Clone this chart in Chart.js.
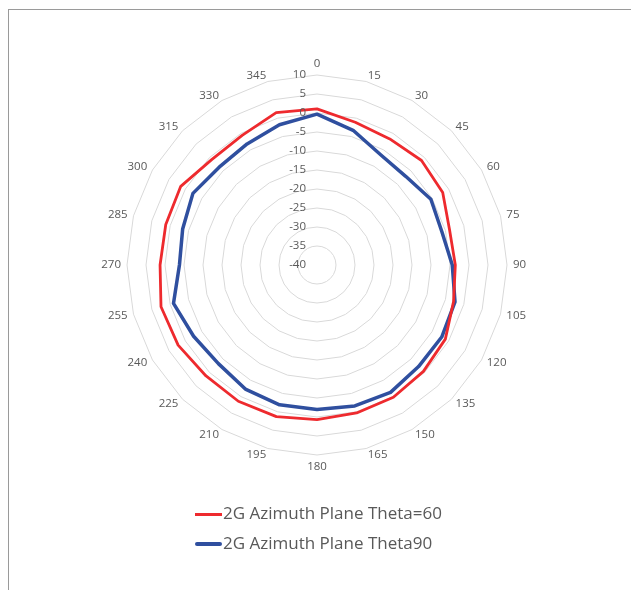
<!DOCTYPE html>
<html>
<head>
<meta charset="utf-8">
<script src="https://cdn.jsdelivr.net/npm/chart.js@4"></script>
<style>
  html, body { margin: 0; padding: 0; background: #fff; }
  #wrap { position: relative; width: 631px; height: 590px; overflow: hidden; }
  #frame { position: absolute; left: 8px; top: 9px; width: 700px; height: 700px;
           border-top: 1px solid #9a9a9a; border-left: 1px solid #9a9a9a; }
  #c { position: absolute; left: 0; top: 0; }
  .leg { position: absolute; left: 195px; font: 17px "Open Sans", sans-serif; color: #595959;
         white-space: nowrap; line-height: 20px; }
  .leg i { display: inline-block; width: 27px; vertical-align: middle; margin-right: 1px; }
</style>
</head>
<body>
<div id="wrap">
  <div id="frame"></div>
  <canvas id="c" width="631" height="590"></canvas>
  <div class="leg" style="top:503px"><i style="height:3px;background:#ee2a2e"></i>2G Azimuth Plane Theta=60</div>
  <div class="leg" style="top:533px"><i style="height:4px;border-radius:2px;background:#2f4f9f"></i>2G Azimuth Plane Theta90</div>
</div>
<script>
// === DATA ===
const angles = ['0', '15', '30', '45', '60', '75', '90', '105', '120', '135', '150', '165',
                '180', '195', '210', '225', '240', '255', '270', '285', '300', '315', '330', '345'];
const theta60 = [1.1, -1.1, -1.7, -1.1, -1.8, -3.9, -3.6, -2.8, -1.0, -0.4, 0.2, 0.3,
                 0.7, 1.3, 1.4, 1.3, 2.2, 2.5, 1.3, 1.2, 1.4, -0.8, -0.6, 1.5];
const theta90 = [-0.3, -3.3, -6.5, -7.0, -5.4, -6.0, -4.4, -2.4, -2.1, -2.2, -1.3, -1.6,
                 -2.0, -1.9, -2.3, -3.3, -2.5, -0.9, -3.8, -3.4, -2.3, -3.6, -3.2, -1.8];
const rMin = -40, rMax = 10, rStep = 5;

// === LABELS (Excel-like placement: ticks left of the 0° axis, angle labels centred on their spoke) ===
const radarText = {
    id: 'radarText',
    afterDatasetsDraw(chart) {
        const s = chart.scales.r, ctx = chart.ctx;
        ctx.save();
        ctx.font = '11.5px "Open Sans"';
        ctx.fillStyle = '#595959';

        ctx.textAlign = 'right';
        ctx.textBaseline = 'middle';
        s.ticks.forEach(t => {
            const y = s.yCenter - s.getDistanceFromCenterForValue(t.value);
            ctx.fillText(t.label, s.xCenter - 11, y);
        });

        chart.data.labels.forEach((lab, i) => {
            const p = s.getPointPosition(i, s.drawingArea + 6);
            const deg = Math.round(((p.angle * 180 / Math.PI) + 90 + 360) % 360);
            if (deg === 0 || deg === 180) {
                ctx.textAlign = 'center';
                ctx.textBaseline = deg === 0 ? 'bottom' : 'top';
            } else {
                ctx.textAlign = deg < 180 ? 'left' : 'right';
                ctx.textBaseline = 'middle';
            }
            ctx.fillText(lab, p.x, p.y);
        });
        ctx.restore();
    }
};

// === CHART ===
new Chart(document.getElementById('c'), {
    type: 'radar',
    data: {
        labels: angles,
        datasets: [
            { label: '2G Azimuth Plane Theta=60', data: theta60, borderColor: '#ee2a2e', borderWidth: 2.8, fill: false },
            { label: '2G Azimuth Plane Theta90', data: theta90, borderColor: '#2f4f9f', borderWidth: 3.5, fill: false }
        ]
    },
    options: {
        responsive: false,
        animation: false,
        layout: { padding: { top: 75, bottom: 135, left: 127, right: 124 } },
        elements: { point: { radius: 0 }, line: { tension: 0, borderJoinStyle: 'round' } },
        plugins: { legend: { display: false }, tooltip: { enabled: false } },
        scales: {
            r: {
                min: rMin, max: rMax,
                ticks: { stepSize: rStep, display: false },
                grid: { color: '#d9d9d9', lineWidth: 1 },
                angleLines: { display: false },
                pointLabels: { display: false }
            }
        }
    },
    plugins: [radarText]
});
</script>
</body>
</html>
